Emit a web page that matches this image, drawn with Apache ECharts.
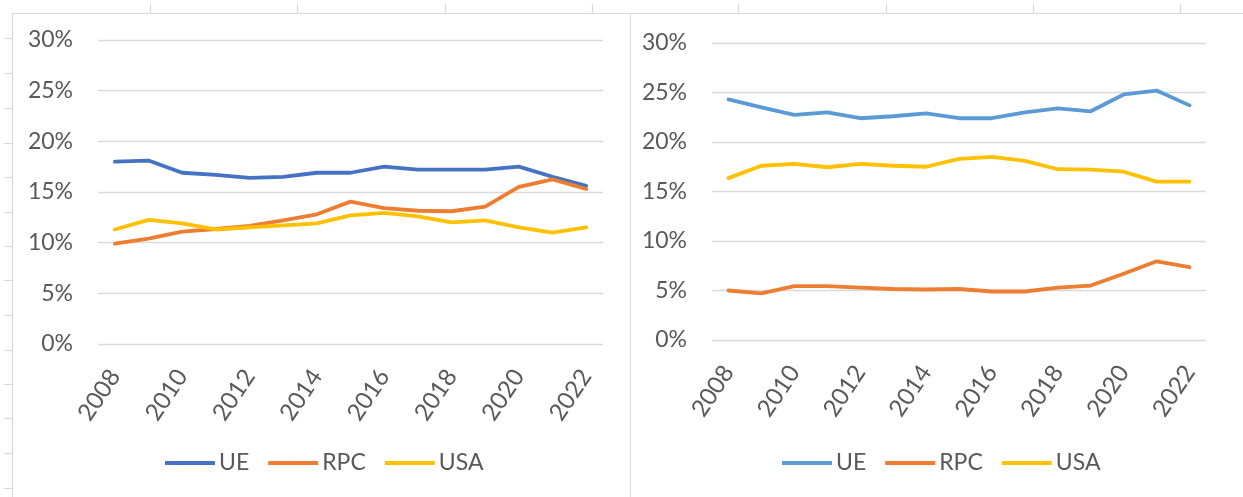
<!DOCTYPE html>
<html>
<head>
<meta charset="utf-8">
<script src="https://cdn.jsdelivr.net/npm/echarts@6/dist/echarts.min.js"></script>
<style>
html,body{margin:0;padding:0;background:#fff;width:1243px;height:497px;overflow:hidden;}
#c1{position:absolute;left:0;top:0;width:631px;height:497px;}
#c2{position:absolute;left:631px;top:0;width:612px;height:497px;}
</style>
</head>
<body>
<div id="c1"></div>
<div id="c2"></div>
<script>
const years = ['2008','2009','2010','2011','2012','2013','2014','2015','2016','2017','2018','2019','2020','2021','2022'];
const yTicks = [0, 5, 10, 15, 20, 25, 30];

const ueLeft  = [18.0, 18.1, 16.9, 16.7, 16.4, 16.5, 16.9, 16.9, 17.5, 17.2, 17.2, 17.2, 17.5, 16.5, 15.6];
const rpcLeft = [9.9, 10.4, 11.1, 11.35, 11.65, 12.2, 12.8, 14.05, 13.4, 13.15, 13.1, 13.55, 15.5, 16.25, 15.3];
const usaLeft = [11.3, 12.25, 11.9, 11.3, 11.5, 11.7, 11.9, 12.7, 12.95, 12.6, 12.0, 12.2, 11.5, 11.0, 11.5];

const ueRight  = [24.3, 23.5, 22.75, 23.0, 22.4, 22.6, 22.9, 22.4, 22.4, 23.0, 23.4, 23.1, 24.8, 25.2, 23.7];
const rpcRight = [5.0, 4.7, 5.45, 5.45, 5.3, 5.15, 5.1, 5.15, 4.9, 4.9, 5.3, 5.5, 6.7, 7.95, 7.35];
const usaRight = [16.35, 17.6, 17.8, 17.45, 17.8, 17.6, 17.5, 18.3, 18.5, 18.1, 17.25, 17.2, 17.0, 16.0, 16.0];

const names = ['UE', 'RPC', 'USA'];
const colorsLeft = ['#4472C4', '#ED7D31', '#FFC000'];
const colorsRight = ['#5B9BD5', '#ED7D31', '#FFC000'];

const FONT = 'Lato';
const TXT = '#595959';
const LINE = '#d9d9d9';

function seriesOf(datas, colors) {
  return datas.map((d, i) => ({
    name: names[i],
    type: 'line',
    data: d,
    symbol: 'none',
    color: colors[i],
    lineStyle: { width: 3.8, color: colors[i], cap: 'round', join: 'round' },
    emphasis: { disabled: true },
    z: 3 + i
  }));
}

function lineEl(x1, y1, x2, y2) {
  return { type: 'line', silent: true, shape: { x1, y1, x2, y2 }, style: { stroke: LINE, lineWidth: 1.2 } };
}

function buildOption(grid, legendLeft, datas, colors, graphics) {
  return {
    animation: false,
    backgroundColor: 'transparent',
    textStyle: { fontFamily: FONT },
    graphic: graphics,
    legend: {
      left: legendLeft, top: 451, padding: 0,
      icon: 'rect', itemWidth: 50, itemHeight: 4, itemGap: 19,
      data: names,
      textStyle: { fontFamily: FONT, fontSize: 23, color: TXT, lineHeight: 24, padding: [0, 0, 0, -1] }
    },
    grid: grid,
    xAxis: {
      type: 'category', data: years, boundaryGap: true,
      axisLine: { show: false }, axisTick: { show: false },
      axisLabel: { interval: 1, rotate: 56, margin: 28, fontFamily: FONT, fontSize: 24, color: TXT }
    },
    yAxis: {
      type: 'value', min: yTicks[0], max: yTicks[yTicks.length - 1], interval: 5,
      axisLine: { show: false }, axisTick: { show: false },
      axisLabel: { margin: 25, fontFamily: FONT, fontSize: 23, color: TXT, formatter: '{value}%' },
      splitLine: { lineStyle: { color: LINE, width: 1.3 } }
    },
    series: seriesOf(datas, colors)
  };
}

// background sheet/frame lines for chart 1 (div at x=0)
const g1 = [
  lineEl(12, 13.5, 631, 13.5),
  lineEl(12.5, 13, 12.5, 497),
  lineEl(630.5, 13, 630.5, 497)
];
[150, 297, 445, 592].forEach(x => g1.push(lineEl(x + 0.5, 4, x + 0.5, 13)));
[38, 73, 108, 143, 177, 212, 246, 280, 315, 350, 384, 418, 453, 488].forEach(y => g1.push(lineEl(4, y + 0.5, 12, y + 0.5)));

// chart 2 (div at x=631)
const g2 = [ lineEl(0, 13.5, 612, 13.5) ];
[738, 886, 1033, 1180].forEach(x => g2.push(lineEl(x - 631 + 0.5, 4, x - 631 + 0.5, 13)));

const c1 = echarts.init(document.getElementById('c1'), null, { renderer: 'canvas' });
c1.setOption(buildOption({ left: 98, right: 28, top: 40, bottom: 153 }, 165,
  [ueLeft, rpcLeft, usaLeft], colorsLeft, g1));

const c2 = echarts.init(document.getElementById('c2'), null, { renderer: 'canvas' });
c2.setOption(buildOption({ left: 81, right: 37, top: 43, bottom: 157 }, 151,
  [ueRight, rpcRight, usaRight], colorsRight, g2));
</script>
</body>
</html>
